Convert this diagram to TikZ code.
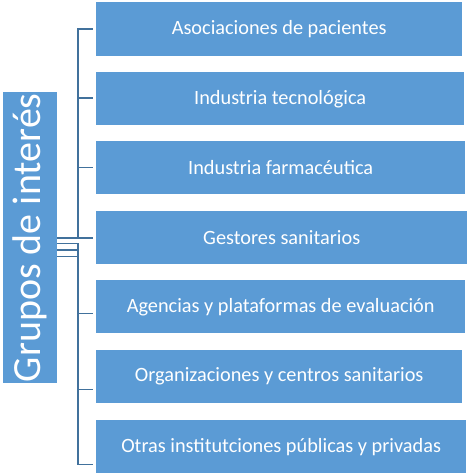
\documentclass[tikz,border=0pt]{standalone}
\usepackage{fontspec}
\setmainfont{Carlito}
\definecolor{boxblue}{HTML}{5B9BD5}
\definecolor{linkblue}{HTML}{41719C}
\tikzset{
  itembox/.style={fill=boxblue, draw=none, inner sep=0pt, anchor=north west, text=white,
    font=\fontsize{20.3}{24}\selectfont},
  conn/.style={draw=linkblue, line width=1.6pt},
}
\begin{document}
\begin{tikzpicture}[x=1pt,y=1pt]
\useasboundingbox (0,0) rectangle (470,-475);
% root
\node[fill=boxblue, inner sep=0pt, minimum width=54pt, minimum height=291pt, anchor=north west] (root) at (3,-92) {};
\node[rotate=90, text=white, font=\fontsize{40}{44}\selectfont, inner sep=0pt] (roottext) at (root.center) {Grupos de interés};
% items
\node[itembox, minimum width=366pt, minimum height=54pt] (b1) at (96,-2) {Asociaciones de pacientes};
\node[itembox, minimum width=368pt, minimum height=53pt] (b2) at (96,-72) {Industria tecnológica};
\node[itembox, minimum width=369pt, minimum height=53pt] (b3) at (96,-141) {Industria farmacéutica};
\node[itembox, minimum width=371pt, minimum height=53pt] (b4) at (96,-211) {Gestores sanitarios};
\node[itembox, minimum width=369pt, minimum height=53pt] (b5) at (96,-280) {Agencias y plataformas de evaluación};
\node[itembox, minimum width=366pt, minimum height=53pt] (b6) at (96,-350) {Organizaciones y centros sanitarios};
\node[itembox, minimum width=370pt, minimum height=53pt] (b7) at (96,-420) {Otras institutciones públicas y privadas};
% connector end points
\coordinate (r1) at (57,-237.7);
\coordinate (r5) at (57,-243.4);
\coordinate (r6) at (57,-249.9);
\coordinate (r7) at (57,-256.4);
\coordinate (e1) at (93,-28.7);
\coordinate (e2) at (93,-97.7);
\coordinate (e3) at (93,-167.3);
\coordinate (e4) at (93,-237.7);
\coordinate (e5) at (93,-313.3);
\coordinate (e6) at (93,-389.3);
\coordinate (e7) at (93,-464.3);
\foreach \e in {1,2,3,4}{
  \draw[conn] (r1) -| ([xshift=-15.3pt]e\e) -- (e\e);
}
\draw[conn] (r5) -| ([xshift=-15.3pt]e5) -- (e5);
\draw[conn] (r6) -| ([xshift=-15.3pt]e6) -- (e6);
\draw[conn] (r7) -| ([xshift=-15.3pt]e7) -- (e7);
\end{tikzpicture}
\end{document}
